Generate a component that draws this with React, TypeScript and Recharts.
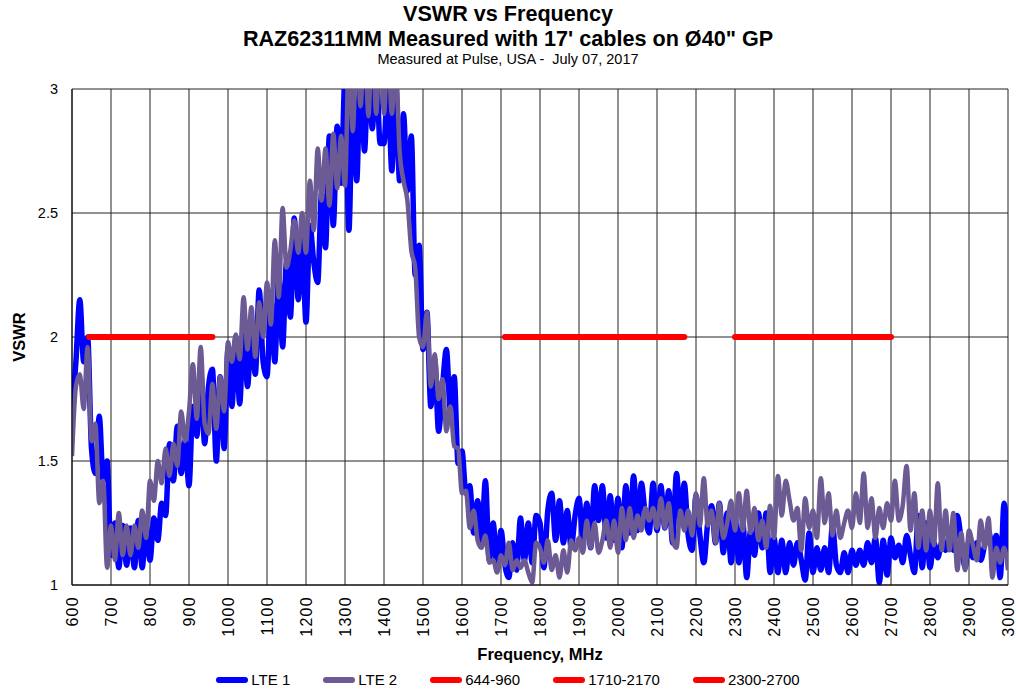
import { LineChart, Line, XAxis, YAxis, CartesianGrid, Legend, Label } from 'recharts';

// sweep grid: one reading every 10 MHz, 600..3000
const FREQ_START = 600;
const FREQ_STEP = 10;

// VSWR readings, rows of 100 MHz
const LTE1 = [
  1.68, 1.9, 2.15, 1.9, 2.0, 1.55, 1.45, 1.68, 1.42, 1.5,
  1.12, 1.25, 1.07, 1.24, 1.08, 1.23, 1.07, 1.26, 1.07, 1.24,
  1.1, 1.27, 1.18, 1.33, 1.28, 1.57, 1.42, 1.64, 1.45, 1.58,
  1.4, 1.72, 1.6, 1.86, 1.57, 1.8, 1.87, 1.5, 1.84, 1.55,
  1.95, 1.72, 2.0, 1.73, 2.05, 1.8, 2.02, 1.85, 2.19, 1.9,
  1.84, 2.15, 1.9, 2.25, 1.96, 2.3, 2.08, 2.48, 2.15, 2.4,
  2.06, 2.45, 2.3, 2.22, 2.58, 2.36, 2.81, 2.45, 2.85, 2.62,
  3.05, 2.43, 3.0, 2.63, 3.1, 2.75, 3.1, 2.84, 3.1, 2.78,
  2.78, 3.05, 2.67, 3.02, 2.63, 2.9, 2.59, 2.81, 2.25, 2.37,
  1.95, 2.1, 1.72, 1.91, 1.62, 1.8, 1.95, 1.71, 1.84, 1.49,
  1.54, 1.37, 1.4, 1.21, 1.34, 1.18, 1.42, 1.1, 1.25, 1.06,
  1.22, 1.08, 1.03, 1.17, 1.06, 1.27, 1.1, 1.25, 1.09, 1.28,
  1.25, 1.07, 1.3, 1.37, 1.18, 1.34, 1.17, 1.3, 1.15, 1.28,
  1.35, 1.19, 1.33, 1.15, 1.4, 1.26, 1.4, 1.19, 1.36, 1.18,
  1.35, 1.15, 1.4, 1.21, 1.44, 1.22, 1.41, 1.28, 1.21, 1.41,
  1.22, 1.4, 1.23, 1.38, 1.17, 1.45, 1.26, 1.41, 1.2, 1.14,
  1.36, 1.2, 1.09, 1.25, 1.32, 1.17, 1.33, 1.13, 1.29, 1.09,
  1.28, 1.09, 1.25, 1.03, 1.22, 1.12, 1.29, 1.15, 1.29, 1.05,
  1.19, 1.05, 1.18, 1.05, 1.17, 1.08, 1.17, 1.1, 1.02, 1.21,
  1.05, 1.15, 1.06, 1.15, 1.05, 1.24, 1.08, 1.05, 1.13, 1.05,
  1.14, 1.08, 1.14, 1.08, 1.17, 1.09, 1.19, 1.01, 1.18, 1.04,
  1.19, 1.11, 1.16, 1.09, 1.2, 1.12, 1.05, 1.28, 1.07, 1.25,
  1.07, 1.17, 1.11, 1.17, 1.14, 1.2, 1.14, 1.28, 1.18, 1.07,
  1.18, 1.11, 1.17, 1.1, 1.16, 1.22, 1.14, 1.2, 1.03, 1.33,
  1.11,
];

const LTE2 = [
  1.52, 1.8, 1.85, 1.71, 1.96, 1.58, 1.65, 1.33, 1.42, 1.07,
  1.24, 1.1, 1.29, 1.12, 1.24, 1.12, 1.24, 1.15, 1.3, 1.19,
  1.42, 1.34, 1.5, 1.41, 1.55, 1.44, 1.57, 1.48, 1.7, 1.58,
  1.7, 1.89, 1.67, 1.96, 1.65, 1.61, 1.81, 1.63, 1.84, 1.7,
  1.98, 1.9, 2.01, 1.91, 2.16, 1.95, 2.12, 1.92, 2.14, 2.0,
  2.22, 2.05, 2.39, 2.16, 2.52, 2.28, 2.35, 2.47, 2.34, 2.5,
  2.34, 2.63, 2.43, 2.76, 2.55, 2.76, 2.53, 2.82, 2.6, 2.81,
  2.61, 3.15, 2.83, 3.2, 2.93, 3.25, 2.89, 3.25, 2.9, 3.2,
  2.9, 3.2, 2.9, 3.1, 2.75, 2.63, 2.55, 2.35, 2.28, 2.0,
  1.96, 2.1, 1.8, 1.93, 1.75, 1.83, 1.62, 1.72, 1.56, 1.55,
  1.37, 1.38, 1.23, 1.3, 1.18, 1.15, 1.2, 1.09, 1.1, 1.05,
  1.12, 1.08, 1.17, 1.06, 1.1, 1.07, 1.1, 1.05, 1.01, 1.17,
  1.15, 1.09, 1.18, 1.06, 1.12, 1.03, 1.14, 1.05, 1.18, 1.14,
  1.19, 1.13, 1.26, 1.15, 1.25, 1.13, 1.18, 1.26, 1.15, 1.26,
  1.13, 1.31, 1.18, 1.31, 1.19, 1.28, 1.22, 1.31, 1.26, 1.31,
  1.23, 1.35, 1.23, 1.33, 1.18, 1.15, 1.3, 1.22, 1.3, 1.2,
  1.37, 1.24, 1.43, 1.24, 1.3, 1.17, 1.33, 1.19, 1.25, 1.34,
  1.22, 1.37, 1.22, 1.38, 1.21, 1.31, 1.18, 1.26, 1.15, 1.32,
  1.19, 1.44, 1.28, 1.42, 1.34, 1.26, 1.31, 1.14, 1.35, 1.23,
  1.3, 1.19, 1.43, 1.25, 1.37, 1.2, 1.3, 1.19, 1.25, 1.3,
  1.23, 1.37, 1.25, 1.45, 1.23, 1.35, 1.19, 1.31, 1.23, 1.33,
  1.26, 1.42, 1.26, 1.32, 1.48, 1.22, 1.37, 1.15, 1.3, 1.14,
  1.3, 1.16, 1.41, 1.14, 1.3, 1.14, 1.29, 1.06, 1.21, 1.06,
  1.22, 1.16, 1.1, 1.26, 1.15, 1.27, 1.03, 1.15, 1.09, 1.15,
  1.06,
];

// 2:1 limit lines for each band
const BAND_NAMES = ['644-960', '1710-2170', '2300-2700'];
const BAND_START = [644, 1710, 2300];
const BAND_END = [960, 2170, 2700];
const BAND_LIMIT = 2;

const X_TICKS = [
  600, 700, 800, 900, 1000, 1100, 1200, 1300, 1400, 1500, 1600, 1700, 1800,
  1900, 2000, 2100, 2200, 2300, 2400, 2500, 2600, 2700, 2800, 2900, 3000,
];
const Y_TICKS = [1, 1.5, 2, 2.5, 3];

const BLUE = '#0000FF';
const PURPLE = '#6B5A93';
const RED = '#FF0000';

const ARIAL = "'Liberation Sans', Arial, sans-serif";

const toPoints = (vals: number[]) =>
  vals.map((v, i) => ({ f: FREQ_START + i * FREQ_STEP, v }));

const lte1Data = toPoints(LTE1);
const lte2Data = toPoints(LTE2);
const bandData = BAND_NAMES.map((_, i) => [
  { f: BAND_START[i], v: BAND_LIMIT },
  { f: BAND_END[i], v: BAND_LIMIT },
]);

const LEGEND_ITEMS = [
  { name: 'LTE 1', color: BLUE },
  { name: 'LTE 2', color: PURPLE },
  ...BAND_NAMES.map(name => ({ name, color: RED })),
];

const FreqTick = (props: any) => {
  const { x, payload } = props;
  const y = 596;
  return (
    <text
      x={x}
      y={y}
      transform={`rotate(-90, ${x}, ${y})`}
      textAnchor="end"
      dominantBaseline="central"
      fontFamily={ARIAL}
      fontSize={16}
      letterSpacing={1.3}
      fill="#000"
    >
      {payload.value}
    </text>
  );
};

const ChartLegend = () => (
  <div
    style={{
      display: 'flex',
      justifyContent: 'center',
      alignItems: 'center',
      fontFamily: ARIAL,
      fontSize: 15,
      color: '#000',
    }}
  >
    {LEGEND_ITEMS.map((item, i) => (
      <div
        key={item.name}
        style={{ display: 'flex', alignItems: 'center', marginLeft: i === 0 ? 0 : 33 }}
      >
        <span
          style={{
            display: 'inline-block',
            width: 32,
            height: 6,
            borderRadius: 3,
            background: item.color,
            marginRight: 3,
          }}
        />
        <span>{item.name}</span>
      </div>
    ))}
  </div>
);

export default function App() {
  return (
    <div style={{ position: 'absolute', left: 0, top: 0, width: 1016, height: 692, background: '#fff' }}>
      <div
        style={{
          position: 'absolute',
          left: 0,
          top: 1,
          width: 1016,
          textAlign: 'center',
          fontFamily: ARIAL,
          color: '#000',
          whiteSpace: 'pre',
        }}
      >
        <div style={{ fontSize: 21.6, fontWeight: 'bold', lineHeight: '25px' }}>VSWR vs Frequency</div>
        <div style={{ fontSize: 21.6, fontWeight: 'bold', lineHeight: '25px' }}>
          RAZ62311MM Measured with 17' cables on Ø40" GP
        </div>
        <div style={{ fontSize: 14.5, lineHeight: '16px' }}>Measured at Pulse, USA -  July 07, 2017</div>
      </div>
      <LineChart width={1016} height={692} margin={{ top: 89, right: 8, bottom: 0, left: 10 }}>
        <CartesianGrid stroke="#222" strokeWidth={1} />
        <XAxis
          dataKey="f"
          type="number"
          domain={[600, 3000]}
          ticks={X_TICKS}
          interval={0}
          allowDataOverflow
          height={107}
          axisLine={{ stroke: '#000' }}
          tickLine={false}
          tick={<FreqTick />}
        >
          <Label
            value="Frequency, MHz"
            position="insideBottom"
            offset={32}
            style={{ fontFamily: ARIAL, fontSize: 16.5, fontWeight: 'bold', fill: '#000' }}
          />
        </XAxis>
        <YAxis
          type="number"
          domain={[1, 3]}
          ticks={Y_TICKS}
          interval={0}
          allowDataOverflow
          width={62}
          axisLine={{ stroke: '#000' }}
          tickLine={false}
          tickMargin={8}
          tick={{ fontFamily: ARIAL, fontSize: 14.5, fill: '#000' }}
        >
          <Label
            content={(p: any) => {
              const vb = p.viewBox || {};
              const cy = (vb.y || 89) + (vb.height || 496) / 2;
              return (
                <text
                  x={19}
                  y={cy}
                  transform={`rotate(-90, 19, ${cy})`}
                  textAnchor="middle"
                  dominantBaseline="central"
                  fontFamily={ARIAL}
                  fontSize={16.5}
                  fontWeight="bold"
                  fill="#000"
                >
                  VSWR
                </text>
              );
            }}
          />
        </YAxis>
        <Legend
          layout="horizontal"
          verticalAlign="middle"
          align="center"
          wrapperStyle={{ top: 671, left: 0, width: 1016 }}
          content={() => <ChartLegend />}
        />
        <Line
          data={lte1Data}
          dataKey="v"
          name="LTE 1"
          type="monotone"
          stroke={BLUE}
          strokeWidth={5.5}
          dot={false}
          activeDot={false}
          isAnimationActive={false}
        />
        <Line
          data={lte2Data}
          dataKey="v"
          name="LTE 2"
          type="monotone"
          stroke={PURPLE}
          strokeWidth={4.5}
          dot={false}
          activeDot={false}
          isAnimationActive={false}
        />
        {bandData.map((d, i) => (
          <Line
            key={BAND_NAMES[i]}
            data={d}
            dataKey="v"
            name={BAND_NAMES[i]}
            type="linear"
            stroke={RED}
            strokeWidth={6}
            strokeLinecap="round"
            dot={false}
            activeDot={false}
            isAnimationActive={false}
          />
        ))}
      </LineChart>
    </div>
  );
}
